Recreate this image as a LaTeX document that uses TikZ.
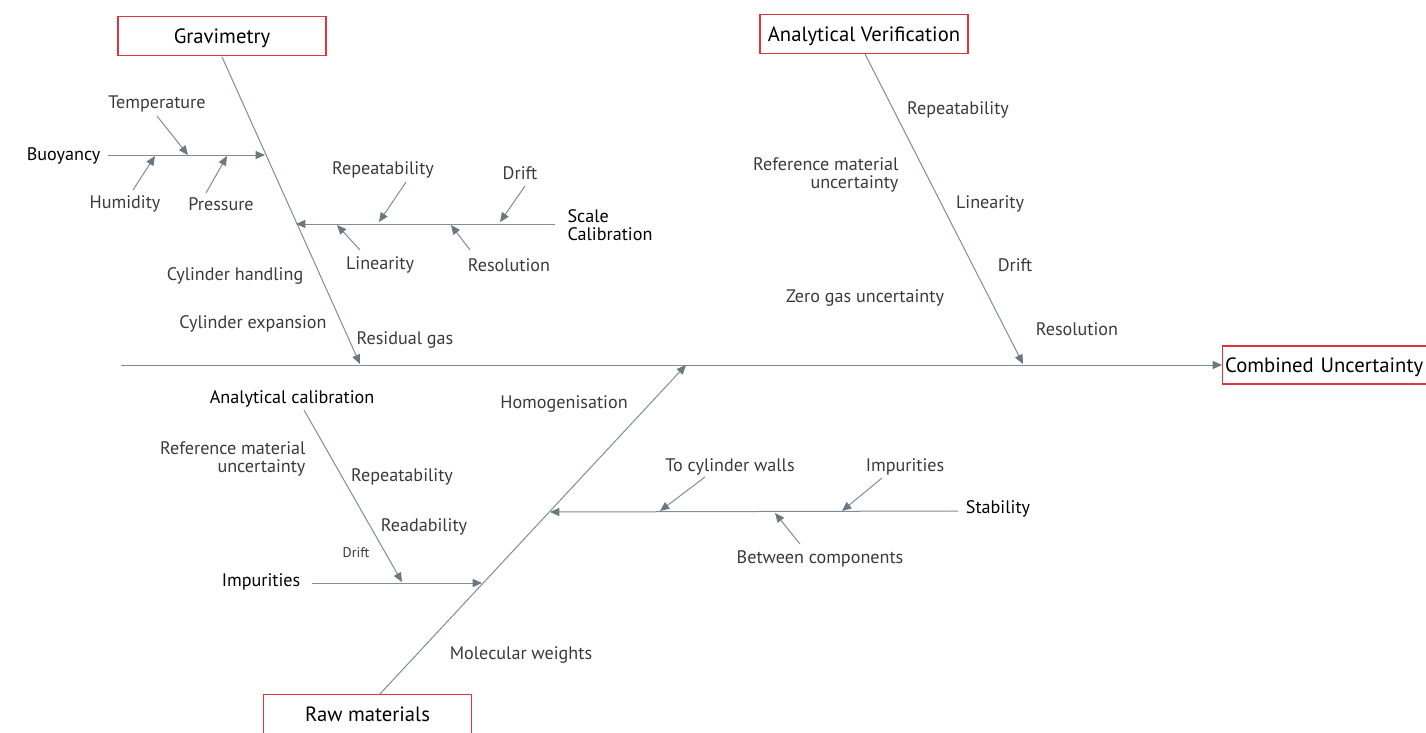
\documentclass[tikz,border=0pt]{standalone}
\usepackage{fontspec}
\setmainfont{PT Sans}
\usetikzlibrary{arrows.meta}
\definecolor{linegray}{HTML}{828C91}
\definecolor{arrowgray}{HTML}{6B7880}
\definecolor{boxred}{HTML}{E0353F}
\definecolor{labelgray}{HTML}{3A3A3A}
\begin{document}
\begin{tikzpicture}[x=0.75pt,y=-0.75pt,
  box/.style={draw=boxred, line width=0.8pt, minimum width=156pt, minimum height=29pt, inner sep=2pt, text height=11.5pt, text depth=1pt, font=\fontsize{15.5}{18}\selectfont, text=black},
  lbl/.style={text=labelgray, font=\fontsize{13.6}{16}\selectfont, inner sep=1pt, yshift=-1.5pt},
  head/.style={text=black, font=\fontsize{13.6}{16}\selectfont, inner sep=1pt, yshift=-1.5pt},
  bone/.style={draw=linegray, line width=0.75pt},
  arr/.style={bone, -{Triangle[length=7pt,width=6pt,fill=arrowgray,color=arrowgray]}}]
\useasboundingbox (0,0) rectangle (1426,732);
\clip (0,0) rectangle (1426,732);
% boxes
\node[box] (grav) at (222,36) {Gravimetry};
\node[box] (av) at (864,34) {Analytical Verification};
\node[box, draw=boxred] (raw) at (367.5,714) {Raw materials};
\node[box, anchor=west, text width=240pt, minimum height=28.5pt, inner sep=2pt, align=left] (cu) at (1222,365) {Combined Uncertainty};
% spine
\coordinate (sp0) at (121,365);
\draw[arr] (sp0) -- (cu.west);
% main bone tips
\coordinate (gravtip) at (360,364);
\coordinate (avtip) at (1023,364);
\coordinate (rawtip) at (686,365);
\draw[arr] (grav.south) ++(0,1) coordinate (gravtop) (gravtop) -- (gravtip);
\draw[arr] (865,54) coordinate (avtop) (avtop) -- (avtip);
\draw[arr] (379,695) coordinate (rawbot) (rawbot) -- (rawtip);
% Gravimetry sub-bones
\node[head, anchor=east] (buoy) at (102,154) {Buoyancy};
\coordinate (buoyS) at (108,155);
\coordinate (buoyE) at (265,155);
\draw[arr] (buoyS) -- (buoyE);
\node[lbl] (temp) at (157,102) {Temperature};
\node[lbl] (humid) at (125,202) {Humidity};
\node[lbl] (press) at (221,202) {Pressure};
\coordinate (tempT) at (188,155);
\coordinate (humidT) at (155,156);
\coordinate (pressT) at (227,156);
\draw[arr] (157,116) coordinate (tempS) (tempS) -- (tempT);
\draw[arr] (133,190) coordinate (humidS) (humidS) -- (humidT);
\draw[arr] (206,193) coordinate (pressS) (pressS) -- (pressT);
\node[head, anchor=west, align=left] (scal) at (566,223) {Scale\\[-3pt]Calibration};
\coordinate (scalS) at (555,224);
\coordinate (scalE) at (296,224);
\draw[arr] (scalS) -- (scalE);
\node[lbl] (srep) at (383,168) {Repeatability};
\node[lbl] (sdrift) at (520,171) {Drift};
\node[lbl] (slin) at (380,263) {Linearity};
\node[lbl] (sres) at (509,263) {Resolution};
\draw[arr] (406,182) coordinate (srepS) (srepS) -- (379,222) coordinate (srepT);
\draw[arr] (525,186) coordinate (sdriftS) (sdriftS) -- (500,222) coordinate (sdriftT);
\draw[arr] (360,250) coordinate (slinS) (slinS) -- (337,225) coordinate (slinT);
\draw[arr] (470,250) coordinate (sresS) (sresS) -- (451,225) coordinate (sresT);
\node[lbl] (chand) at (235,274) {Cylinder handling};
\node[lbl] (cexp) at (253,322) {Cylinder expansion};
\node[lbl] (resgas) at (405,338) {Residual gas};
% Analytical verification labels
\node[lbl] (avrep) at (958,108) {Repeatability};
\node[lbl, anchor=east, align=right] (avref) at (900,173) {Reference material\\[-2pt]uncertainty};
\node[lbl] (avlin) at (990,202) {Linearity};
\node[lbl] (avdrift) at (1015,263) {Drift};
\node[lbl] (avzero) at (865,296) {Zero gas uncertainty};
\node[lbl] (avres) at (1077,327) {Resolution};
% Raw materials
\node[lbl] (homog) at (564,402) {Homogenisation};
\node[lbl] (molw) at (521,653) {Molecular weights};
\node[head] (acal) at (292,397) {Analytical calibration};
\node[lbl, anchor=east, align=right] (acref) at (307,457) {Reference material\\[-2pt]uncertainty};
\node[lbl] (acrep) at (402,475) {Repeatability};
\node[lbl] (acread) at (424,525) {Readability};
\node[lbl, font=\fontsize{10.5}{12}\selectfont] (acdrift) at (356,551) {Drift};
\node[head] (imp) at (261,580) {Impurities};
\coordinate (impS) at (312,583);
\coordinate (impE) at (482,583);
\draw[arr] (impS) -- (impE);
\draw[arr] (304,410) coordinate (acalS) (acalS) -- (402,582) coordinate (acalT);
\node[head] (stab) at (998,507) {Stability};
\coordinate (stabS) at (958,511);
\coordinate (stabE) at (550,512);
\draw[arr] (stabS) -- (stabE);
\node[lbl] (tcw) at (730,465) {To cylinder walls};
\node[lbl] (simp) at (905,465) {Impurities};
\node[lbl] (btw) at (820,557) {Between components};
\draw[arr] (705,477) coordinate (tcwS) (tcwS) -- (660,511) coordinate (tcwT);
\draw[arr] (882,478) coordinate (simpS) (simpS) -- (842,511) coordinate (simpT);
\draw[arr] (800,544) coordinate (btwS) (btwS) -- (775,513) coordinate (btwT);
\end{tikzpicture}
\end{document}
